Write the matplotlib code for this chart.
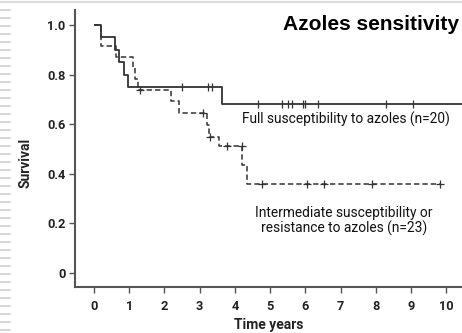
import matplotlib
matplotlib.use("Agg")
import matplotlib.pyplot as plt
from matplotlib.lines import Line2D

# ---- data ----
full_times = [0.0, 0.20, 0.59, 0.71, 0.84, 0.97, 3.63]
full_surv = [1.00, 0.95, 0.90, 0.85, 0.80, 0.75, 0.68]
full_end = 10.6
full_cens_t = [2.49, 3.25, 3.34, 4.65, 5.33, 5.52, 5.63, 5.93, 5.98, 6.37, 8.29, 9.05]
full_cens_s = [0.75, 0.75, 0.75, 0.68, 0.68, 0.68, 0.68, 0.68, 0.68, 0.68, 0.68, 0.68]

int_times = [0.0, 0.20, 0.62, 1.10, 1.15, 1.25, 2.18, 2.41, 3.20, 3.27, 3.56, 4.20, 4.34]
int_surv = [1.00, 0.913, 0.870, 0.826, 0.783, 0.739, 0.693, 0.644, 0.598, 0.550, 0.510, 0.435, 0.360]
int_end = 9.83
int_cens_t = [1.32, 3.10, 3.30, 3.77, 4.19, 4.77, 6.05, 6.54, 7.90, 9.83]
int_cens_s = [0.739, 0.644, 0.550, 0.510, 0.510, 0.360, 0.360, 0.360, 0.360, 0.360]

xticks = [0, 1, 2, 3, 4, 5, 6, 7, 8, 9, 10]
yticks = [0, 0.2, 0.4, 0.6, 0.8, 1.0]
ytick_labels = ["0", "0.2", "0.4", "0.6", "0.8", "1.0"]

W, H = 462, 333
fig = plt.figure(figsize=(W / 100, H / 100), dpi=100)

def fx(px):
    return px / W

def fy(py):
    return 1 - py / H

ax = fig.add_axes([fx(75), fy(287), fx(462) - fx(75), fy(10) - fy(287)])
ax.set_xlim(-0.54, 10.45)
ax.set_ylim(-0.0565, 1.06)

line_col = "#333333"
ax.step(full_times + [full_end], full_surv + [full_surv[-1]], where="post",
        color=line_col, lw=1.3, solid_capstyle="butt")
ax.step(int_times + [int_end], int_surv + [int_surv[-1]], where="post",
        color=line_col, lw=1.1, linestyle=(0, (3.5, 2.0)))
ax.plot(full_cens_t, full_cens_s, linestyle="none", marker="|", ms=6, mew=0.9, color=line_col)
ax.plot(int_cens_t, int_cens_s, linestyle="none", marker="+", ms=6, mew=0.9, color=line_col)

for s in ["top", "right"]:
    ax.spines[s].set_visible(False)
for s in ["left", "bottom"]:
    ax.spines[s].set_color("#555555")
    ax.spines[s].set_linewidth(1.5)

tick_font = dict(family=["Roboto", "DejaVu Sans"], size=9.2, weight="bold")
ax.set_xticks(xticks)
ax.set_xticklabels([str(v) for v in xticks], **tick_font)
ax.set_yticks(yticks)
ax.set_yticklabels(ytick_labels, **tick_font)
ax.tick_params(axis="both", direction="out", length=4, width=1.0, color="#555555",
               labelcolor="#222222")
ax.tick_params(axis="x", pad=5)
ax.tick_params(axis="y", pad=3)

lab_font = dict(family=["Roboto", "DejaVu Sans"], size=10, weight="bold", color="#222222")
fig.text(fx(234), fy(329), "Time years", ha="left", va="baseline", **lab_font)
fig.text(fx(33), fy(163), "Survival", ha="right", va="center", rotation=90, **lab_font)

txt_font = dict(family=["Roboto", "DejaVu Sans"], size=9.9, color="#111111")
fig.text(fx(242), fy(124), "Full susceptibility to azoles (n=20)", ha="left", va="baseline", **txt_font)
fig.text(fx(344), fy(216.5), "Intermediate susceptibility or", ha="center", va="baseline", **txt_font)
fig.text(fx(344), fy(232.5), "resistance to azoles (n=23)", ha="center", va="baseline", **txt_font)

fig.text(fx(459), fy(30), "Azoles sensitivity", ha="right", va="baseline",
         family=["Liberation Sans", "DejaVu Sans"], weight="bold", size=15, color="black")

# screenshot frame decorations
fig.add_artist(Line2D([0, 1], [fy(1.5), fy(1.5)], transform=fig.transFigure, color="#dddddd", lw=1.5))
for i in range(41):
    yy = 10 + 8 * i
    if yy > 330:
        break
    fig.add_artist(Line2D([0, fx(10)], [fy(yy), fy(yy)], transform=fig.transFigure,
                          color="#d0d0d0", lw=1.2))

fig.savefig("out.png", dpi=100)
